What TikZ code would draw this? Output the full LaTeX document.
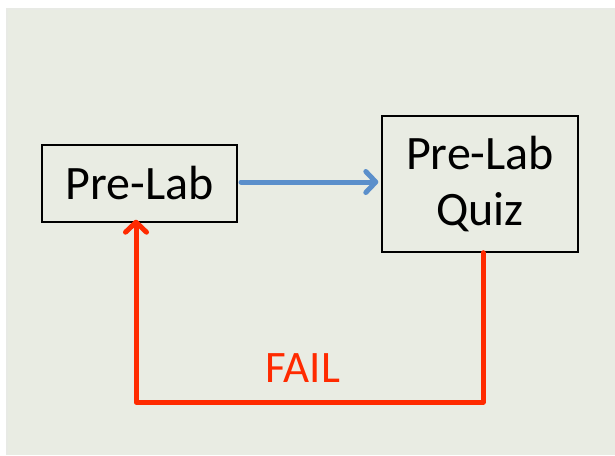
\documentclass[tikz,border=0pt]{standalone}
\usepackage{fontspec}
\setmainfont{Carlito}
\usetikzlibrary{arrows.meta}
\definecolor{panel}{HTML}{E9ECE3}
\definecolor{flowblue}{HTML}{5B8FCB}
\definecolor{failred}{HTML}{FF2A00}
\tikzset{
  stepbox/.style={draw=black, line width=1.4pt, fill=panel, inner sep=0pt, font=\fontsize{48}{56}\selectfont, align=center},
  barb/.style={-{Straight Barb[length=10pt,width=21pt,line cap=round,line join=round]}, line cap=round},
}
\begin{document}
\begin{tikzpicture}[x=1pt,y=-1pt]
\useasboundingbox (0,0) rectangle (615,455);
\fill[white] (0,0) rectangle (615,455);
\fill[panel!85!gray!60!white] (6,8) rectangle (615,455);
\fill[panel] (8,10) rectangle (615,455);
\node[stepbox, minimum width=195pt, minimum height=77pt] (prelab) at (139.5,183.5) {Pre-Lab};
\node[stepbox, minimum width=196pt, minimum height=136pt] (quiz) at (480,184) {Pre-Lab\\Quiz};
\coordinate (qb) at (483,402);
\coordinate (pb) at (136,402);
\draw[barb, flowblue, line width=5pt] (241,182) -- ([xshift=-3pt]quiz.west |- 0,182);
\draw[barb, failred, line width=5pt, line join=round] ([xshift=3pt]quiz.south) -- (qb) -- (pb) -- ([xshift=-3.5pt,yshift=3pt]prelab.south);
\node[text=failred, font=\fontsize{45}{50}\selectfont, anchor=base] (fail) at (303,382) {FAIL};
\end{tikzpicture}
\end{document}
